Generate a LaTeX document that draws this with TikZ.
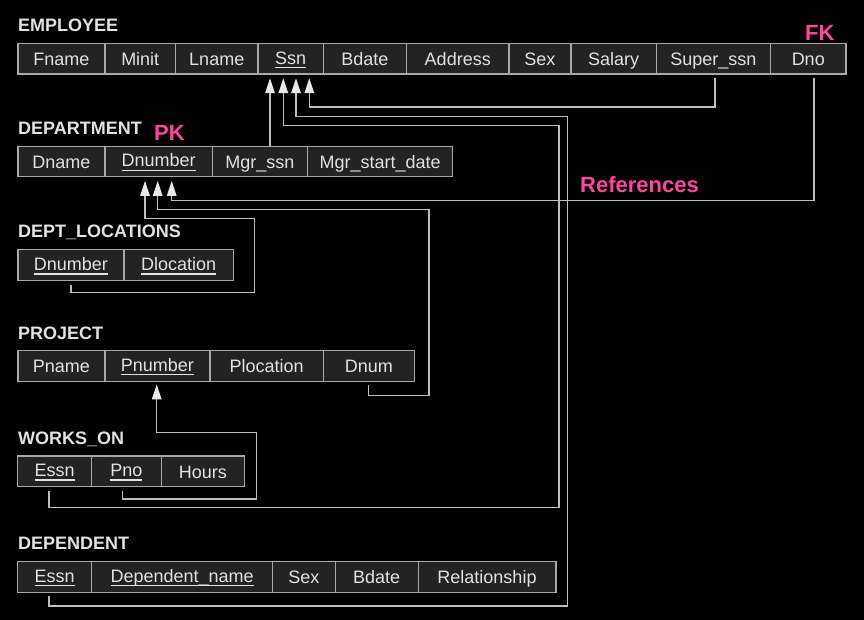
\documentclass[tikz,border=0pt]{standalone}
\usepackage{fontspec}
\setmainfont{Liberation Sans}
\usetikzlibrary{arrows.meta}
\definecolor{bg}{HTML}{000000}
\definecolor{cellfill}{HTML}{232323}
\definecolor{cellline}{HTML}{A8A8A8}
\definecolor{txt}{HTML}{E2E2E2}
\definecolor{linec}{HTML}{BDBDBD}
\definecolor{tipc}{HTML}{E8E8E8}
\definecolor{pinkc}{HTML}{FF45A2}
\newcommand\ukey[1]{\raisebox{1.7pt}{\setbox0\hbox{#1}\rlap{\rule[-4.2pt]{\wd0}{1.2pt}}\box0}}
\newcommand\mkcell[5]{\node[cellbox,minimum width=#3pt-#2pt] (#1) at (#2,#4) {#5};}
\tikzset{
  cellbox/.style={draw=cellline, fill=cellfill, line width=1.2pt, anchor=north west,
    inner sep=0pt, minimum height=30.5pt, text height=16pt, text depth=2pt,
    text=txt, font=\fontsize{18}{21}\selectfont},
  tabtitle/.style={anchor=base west, inner sep=0pt, text=txt,
    font=\fontsize{18}{21}\selectfont\bfseries},
  pinklabel/.style={anchor=base west, inner sep=0pt, text=pinkc,
    font=\fontsize{22}{25}\selectfont\bfseries},
  refline/.style={draw=linec, line width=1.3pt, line join=miter,
    -{Triangle[width=9.5pt,length=15pt,color=tipc]}, shorten <=3.5pt, shorten >=3.5pt}
}
\begin{document}
\begin{tikzpicture}[x=1pt,y=-1pt]
\useasboundingbox (0,0) rectangle (864,620);
\fill[bg] (0,0) rectangle (864,620);

% titles
\node[tabtitle] (temp) at (18,32) {EMPLOYEE};
\node[tabtitle] (tdept) at (18,135) {DEPARTMENT};
\node[tabtitle] (tdloc) at (18,237.3) {DEPT\_LOCATIONS};
\node[tabtitle] (tproj) at (18,339) {PROJECT};
\node[tabtitle] (twork) at (18,444.3) {WORKS\_ON};
\node[tabtitle] (tdep) at (18,549.3) {DEPENDENT};

% EMPLOYEE
\mkcell{fname}{17.3}{104.3}{43}{Fname}
\mkcell{minit}{104.3}{175}{43}{Minit}
\mkcell{lname}{175}{257.3}{43}{Lname}
\mkcell{ssn}{257.3}{322.7}{43}{\ukey{Ssn}}
\mkcell{bdate}{322.7}{406}{43}{Bdate}
\mkcell{address}{406}{508.3}{43}{Address}
\mkcell{sex}{508.3}{570.3}{43}{Sex}
\mkcell{salary}{570.3}{655.7}{43}{Salary}
\mkcell{superssn}{655.7}{770}{43}{Super\_ssn}
\mkcell{dno}{770}{845.3}{43}{Dno}

% DEPARTMENT
\mkcell{dname}{17.3}{104.3}{145.7}{Dname}
\mkcell{dnumber}{104.3}{211.7}{145.7}{\ukey{Dnumber}}
\mkcell{mgrssn}{211.7}{307}{145.7}{Mgr\_ssn}
\mkcell{mgrdate}{307}{452}{145.7}{Mgr\_start\_date}

% DEPT_LOCATIONS
\mkcell{dldnumber}{17.3}{123.3}{249.3}{\ukey{Dnumber}}
\mkcell{dlloc}{123.3}{233}{249.3}{\ukey{Dlocation}}

% PROJECT
\mkcell{pname}{17.3}{104.3}{350}{Pname}
\mkcell{pnumber}{104.3}{209.3}{350}{\ukey{Pnumber}}
\mkcell{ploc}{209.3}{322.7}{350}{Plocation}
\mkcell{dnum}{322.7}{414}{350}{Dnum}

% WORKS_ON
\mkcell{wessn}{17.2}{90.7}{455.3}{\ukey{Essn}}
\mkcell{pno}{90.7}{160.7}{455.3}{\ukey{Pno}}
\mkcell{hours}{160.7}{243.8}{455.3}{Hours}

% DEPENDENT
\mkcell{dessn}{17.2}{91}{561}{\ukey{Essn}}
\mkcell{depname}{91}{272}{561}{\ukey{Dependent\_name}}
\mkcell{dsex}{272}{334.5}{561}{Sex}
\mkcell{dbdate}{334.5}{417.5}{561}{Bdate}
\mkcell{rel}{417.5}{555.3}{561}{Relationship}

% pink labels
\node[pinklabel] (pk) at (154,140.7) {PK};
\node[pinklabel] (fk) at (805,40.3) {FK};
\node[pinklabel] (refs) at (580,192.7) {References};

% connectors to Ssn
\draw[refline] (superssn.south -| 715,0) |- (309.3,107) -- (ssn.south -| 309.3,0);
\draw[refline] (dessn.south -| 49,0) |- (567.7,606) |- (296,116.3) -- (ssn.south -| 296,0);
\draw[refline] (wessn.south -| 49,0) |- (559,507.7) |- (283.3,125.7) -- (ssn.south -| 283.3,0);
\draw[refline, shorten <=0pt] (mgrssn.north -| 270,0) -- (ssn.south -| 270,0);

% connectors to Dnumber
\draw[refline] (dno.south -| 814,0) |- (171.7,200.3) -- (dnumber.south -| 171.7,0);
\draw[refline] (dnum.south -| 368.3,0) |- (429,395.7) |- (157.7,209.3) -- (dnumber.south -| 157.7,0);
\draw[refline] (dldnumber.south -| 71,0) |- (254.3,292.7) |- (145,218.3) -- (dnumber.south -| 145,0);

% connector to Pnumber
\draw[refline, shorten >=2.7pt] (pno.south -| 122.5,0) |- (256.5,499) |- (156.7,432.5) -- (pnumber.south -| 156.7,0);
\end{tikzpicture}
\end{document}
